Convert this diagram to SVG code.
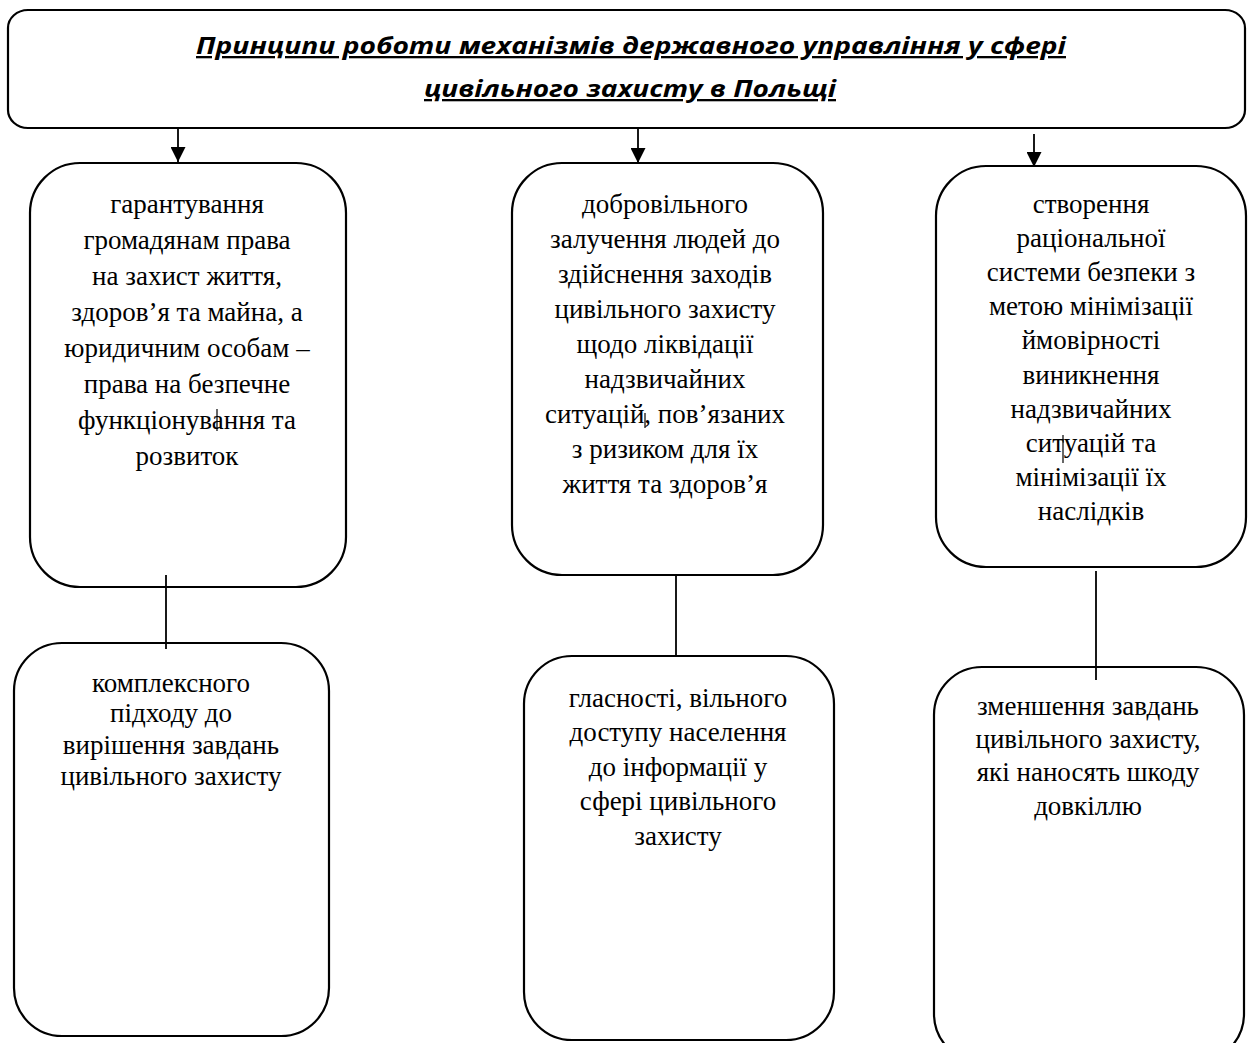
<svg xmlns="http://www.w3.org/2000/svg" width="1248" height="1043" viewBox="0 0 1248 1043">
<defs>
<style>
.box{fill:#fff;stroke:#000;stroke-width:2.2}
.t{font-family:"Liberation Serif","Times New Roman",serif;font-size:27px;fill:#000;text-anchor:middle}
.title{font-family:"Open Sans","Liberation Sans",Arial,sans-serif;font-size:23px;font-weight:bold;font-style:italic;text-decoration:underline;fill:#000;text-anchor:middle}
.c{stroke:#000;stroke-width:1.8;fill:none}
.m{stroke:#000;stroke-width:1.2}
</style>
<marker id="ah" viewBox="0 0 15 15" refX="15" refY="7.5" markerWidth="15" markerHeight="15" markerUnits="userSpaceOnUse" orient="auto">
<path d="M0,0 L15,7.5 L0,15 Z" fill="#000"/>
</marker>
</defs>
<rect width="1248" height="1043" fill="#fff"/>

<g id="connectors">
<line class="c" x1="178" y1="129" x2="178" y2="162" marker-end="url(#ah)"/>
<line class="c" x1="638" y1="129" x2="638" y2="163" marker-end="url(#ah)"/>
<line class="c" x1="1034" y1="134" x2="1034" y2="167" marker-end="url(#ah)"/>
</g>

<g id="node-title">
<rect class="box" x="8" y="10" width="1237" height="118" rx="20" ry="18"/>
<text class="title" x="631" y="54" textLength="870" lengthAdjust="spacingAndGlyphs">Принципи роботи механізмів державного управління у сфері</text>
<text class="title" x="630" y="97" textLength="412" lengthAdjust="spacingAndGlyphs">цивільного захисту в Польщі</text>
</g>

<g id="node-1">
<rect class="box" x="30" y="163" width="316" height="424" rx="50"/>
<text class="t" x="187" y="213">гарантування</text>
<text class="t" x="187" y="249">громадянам права</text>
<text class="t" x="187" y="285">на захист життя,</text>
<text class="t" x="187" y="321">здоров’я та майна, а</text>
<text class="t" x="187" y="357">юридичним особам –</text>
<text class="t" x="187" y="393">права на безпечне</text>
<text class="t" x="187" y="429">функціонування та</text>
<text class="t" x="187" y="465">розвиток</text>
</g>

<g id="node-3">
<rect class="box" x="512" y="163" width="311" height="412" rx="50"/>
<text class="t" x="665" y="213">добровільного</text>
<text class="t" x="665" y="248">залучення людей до</text>
<text class="t" x="665" y="283">здійснення заходів</text>
<text class="t" x="665" y="318">цивільного захисту</text>
<text class="t" x="665" y="353">щодо ліквідації</text>
<text class="t" x="665" y="388">надзвичайних</text>
<text class="t" x="665" y="423">ситуацій, пов’язаних</text>
<text class="t" x="665" y="458">з ризиком для їх</text>
<text class="t" x="665" y="493">життя та здоров’я</text>
</g>

<g id="node-5">
<rect class="box" x="936" y="166" width="310" height="401" rx="50"/>
<text class="t" x="1091" y="213">створення</text>
<text class="t" x="1091" y="247">раціональної</text>
<text class="t" x="1091" y="281">системи безпеки з</text>
<text class="t" x="1091" y="315">метою мінімізації</text>
<text class="t" x="1091" y="349">ймовірності</text>
<text class="t" x="1091" y="384">виникнення</text>
<text class="t" x="1091" y="418">надзвичайних</text>
<text class="t" x="1091" y="452">ситуацій та</text>
<text class="t" x="1091" y="486">мінімізації їх</text>
<text class="t" x="1091" y="520">наслідків</text>
</g>

<g id="node-2">
<rect class="box" x="14" y="643" width="315" height="393" rx="48"/>
<text class="t" x="171" y="692">комплексного</text>
<text class="t" x="171" y="722">підходу до</text>
<text class="t" x="171" y="754">вирішення завдань</text>
<text class="t" x="171" y="785">цивільного захисту</text>
</g>

<g id="node-4">
<rect class="box" x="524" y="656" width="310" height="384" rx="48"/>
<text class="t" x="678" y="707">гласності, вільного</text>
<text class="t" x="678" y="741">доступу населення</text>
<text class="t" x="678" y="776">до інформації у</text>
<text class="t" x="678" y="810">сфері цивільного</text>
<text class="t" x="678" y="845">захисту</text>
</g>

<g id="node-6">
<rect class="box" x="934" y="667" width="310" height="395" rx="48"/>
<text class="t" x="1088" y="715">зменшення завдань</text>
<text class="t" x="1088" y="748">цивільного захисту,</text>
<text class="t" x="1088" y="781">які наносять шкоду</text>
<text class="t" x="1088" y="815">довкіллю</text>
</g>

<g id="links">
<line class="c" x1="166" y1="575" x2="166" y2="649"/>
<line class="c" x1="676" y1="575" x2="676" y2="656"/>
<line class="c" x1="1096" y1="571" x2="1096" y2="680"/>
</g>

<g id="marks">
<line class="m" x1="217" y1="409" x2="217" y2="431"/>
<line class="m" x1="645" y1="413" x2="645" y2="428"/>
<line class="m" x1="1063" y1="435" x2="1063" y2="463"/>
</g>
</svg>
